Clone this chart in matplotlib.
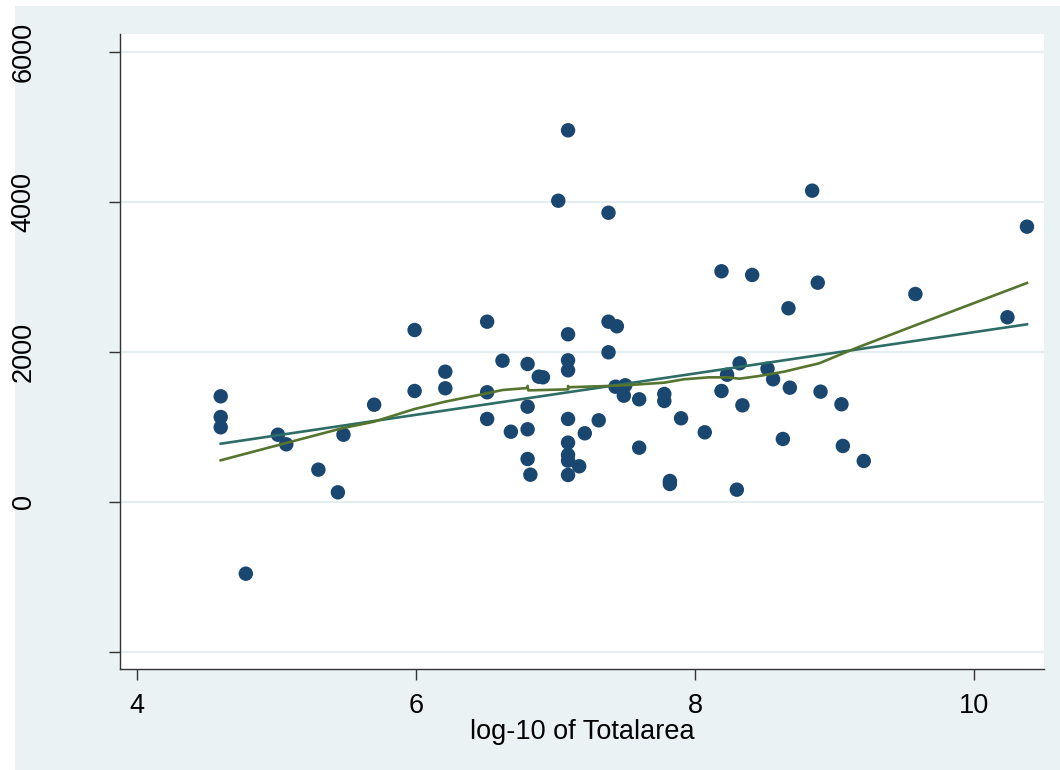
import numpy as np
import matplotlib.pyplot as plt
from matplotlib.patches import Rectangle

# scatter data (log-10 of Totalarea, value)
log_area = [4.60, 4.60, 4.60, 4.78, 5.01, 5.07, 5.30, 5.44, 5.48, 5.70,
            5.99, 5.99, 6.21, 6.21, 6.51, 6.51, 6.51, 6.62, 6.68, 6.80,
            6.80, 6.80, 6.80, 6.82, 6.88, 6.91, 7.09, 7.09, 7.09, 7.09,
            7.09, 7.09, 7.09, 7.09, 7.09, 7.17, 7.21, 7.31, 7.02, 7.38,
            8.84, 10.38, 8.19, 8.41, 8.88, 9.58, 8.67, 10.24, 7.38, 7.44,
            7.38, 8.32, 8.52, 8.23, 8.56, 7.43, 7.50, 7.49, 7.60, 7.78,
            7.78, 8.19, 8.68, 8.90, 9.05, 8.34, 7.90, 8.07, 8.63, 9.06,
            7.60, 9.21, 7.82, 7.82, 8.30]
value = [1409, 1133, 996, -956, 897, 769, 431, 129, 897, 1297,
         2293, 1480, 1737, 1516, 2404, 1463, 1107, 1884, 937, 1840,
         1271, 969, 573, 364, 1671, 1663, 4956, 2236, 1889, 1756,
         1107, 791, 627, 551, 360, 476, 916, 1089, 4017, 3857,
         4151, 3671, 3076, 3027, 2924, 2773, 2583, 2463, 2404, 2343,
         1996, 1849, 1777, 1697, 1636, 1537, 1556, 1417, 1369, 1440,
         1347, 1480, 1524, 1471, 1303, 1289, 1116, 929, 840, 747,
         724, 547, 280, 240, 164]

# linear fit line (ends)
fit_x = [4.60, 10.38]
fit_y = [777, 2369]

# lowess line vertices
lowess_x = [4.60, 5.47, 5.70, 5.99, 6.21, 6.51, 6.62, 6.80, 6.80, 6.805,
            7.09, 7.09, 7.095, 7.38, 7.53, 7.78, 7.92, 8.10, 8.23, 8.32,
            8.46, 8.64, 8.89, 9.15, 9.58, 10.38]
lowess_y = [556, 983, 1071, 1240, 1338, 1449, 1493, 1520, 1548, 1488,
            1502, 1547, 1530, 1547, 1560, 1591, 1636, 1662, 1662, 1644,
            1680, 1738, 1849, 2049, 2356, 2920]

xticks = [4, 6, 8, 10]
yticks = [-2000, 0, 2000, 4000, 6000]

plt.rcParams['font.family'] = ['Liberation Sans', 'DejaVu Sans']
plt.rcParams['font.size'] = 19.5

fig = plt.figure(figsize=(10.6, 7.7), dpi=100, facecolor='white')
# light bluish graph region
fig.patches.append(Rectangle((15 / 1060, 0), 1 - 15 / 1060, 1 - 6 / 770,
                             transform=fig.transFigure, facecolor='#EAF2F3',
                             edgecolor='none', zorder=-10))

ax = fig.add_axes([120 / 1060, 101 / 770, 924 / 1060, 635 / 770])
ax.set_facecolor('white')

ax.scatter(log_area, value, s=108, color='#1A476F', edgecolors='none', zorder=3)
ax.plot(fit_x, fit_y, color='#2D6D66', lw=1.9, zorder=4)
ax.plot(lowess_x, lowess_y, color='#55752F', lw=1.9, zorder=5)

ax.set_xlim(3.878, 10.502)
ax.set_ylim(-2227, 6240)
ax.set_xticks(xticks)
ax.set_yticks(yticks)
ax.set_yticklabels(['' if t == -2000 else str(t) for t in yticks],
                   rotation=90, va='center')
ax.grid(axis='y', color='#E5EDF0', lw=1.6)
ax.set_axisbelow(True)

for side in ['top', 'right']:
    ax.spines[side].set_visible(False)
for side in ['left', 'bottom']:
    ax.spines[side].set_color('#333333')
    ax.spines[side].set_linewidth(1.0)

ax.tick_params(axis='y', length=8, width=1, color='#333333', pad=52)
ax.tick_params(axis='x', length=8, width=1, color='#333333', pad=9)

ax.set_xlabel('log-10 of Totalarea', labelpad=0)

# the -2000 label sits mostly off the left edge in the original
fig.text(6 / 1060, 1 - 652 / 770, '-2000', rotation=90, ha='right', va='center')

plt.savefig('out.png', dpi=100, facecolor=fig.get_facecolor())
